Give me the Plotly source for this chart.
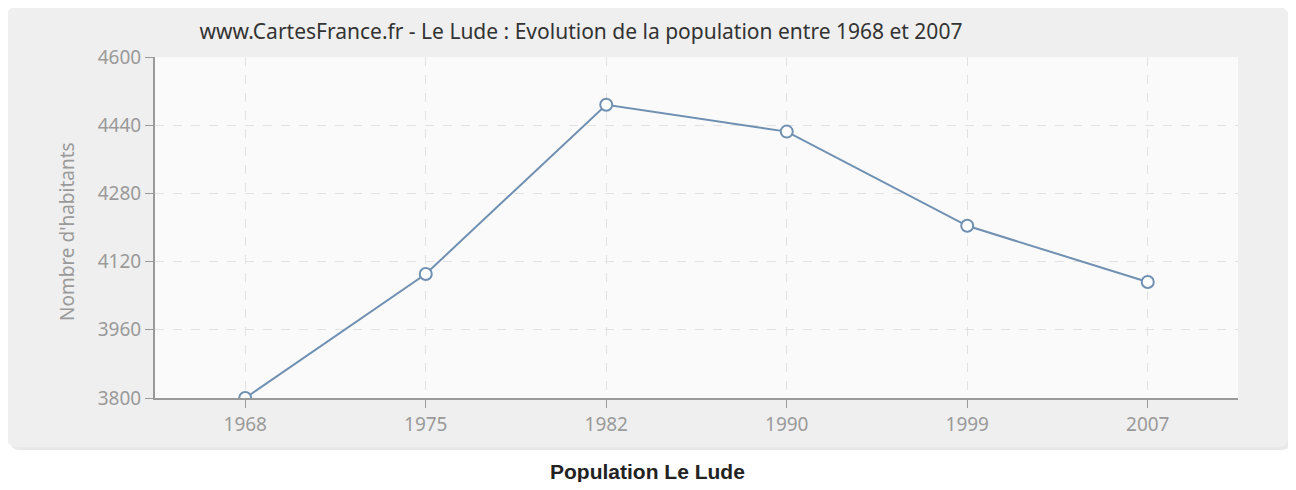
import plotly.graph_objects as go

years = ["1968", "1975", "1982", "1990", "1999", "2007"]
population = [3800, 4091, 4488, 4425, 4204, 4072]
y_ticks = [3800, 3960, 4120, 4280, 4440, 4600]

OFF = 8  # browser body margin
W, H = 1296 - 2 * OFF, 490 - 2 * OFF
L, R, T, B = 155, 1238, 57, 398   # plot area in reference pixels
pw, ph = R - L, B - T

def px(x):
    return (x - L) / pw

def py(y):
    return (B - y) / ph

fig = go.Figure()
fig.add_trace(go.Scatter(
    x=years, y=population, mode="lines+markers",
    line=dict(color="#7090b2", width=2),
    marker=dict(size=12, color="white", line=dict(color="#7090b2", width=2)),
    hoverinfo="x+y", showlegend=False,
))

def rounded(x0, y0, x1, y1, r):
    X0, X1 = px(x0), px(x1)
    Y0, Y1 = py(y1), py(y0)
    rx, ry = r / pw, r / ph
    return (f"M {X0+rx},{Y1} L {X1-rx},{Y1} Q {X1},{Y1} {X1},{Y1-ry} "
            f"L {X1},{Y0+ry} Q {X1},{Y0} {X1-rx},{Y0} L {X0+rx},{Y0} "
            f"Q {X0},{Y0} {X0},{Y0+ry} L {X0},{Y1-ry} Q {X0},{Y1} {X0+rx},{Y1} Z")

shapes = [
    dict(type="path", xref="paper", yref="paper", path=rounded(10, 10, 1291, 450, 10),
         fillcolor="#e8e8e8", line=dict(width=0), layer="below"),
    dict(type="path", xref="paper", yref="paper", path=rounded(7, 7, 1288, 447, 10),
         fillcolor="#efefef", line=dict(width=0), layer="below"),
    dict(type="rect", xref="paper", yref="paper", x0=0, x1=1, y0=0, y1=1,
         fillcolor="#fafafa", line=dict(width=0), layer="below"),
]

tick_font = dict(family="Noto Sans", size=19, color="#9a9a9a")

fig.update_layout(
    width=W, height=H,
    margin=dict(l=L - OFF, r=W - (R - OFF), t=T - OFF, b=H - (B - OFF)),
    paper_bgcolor="white",
    plot_bgcolor="rgba(0,0,0,0)",
    shapes=shapes,
    title=dict(
        text="www.CartesFrance.fr - Le Lude : Evolution de la population entre 1968 et 2007",
        x=(581 - OFF) / W, xanchor="center", y=1 - (32 - OFF) / H, yanchor="middle",
        font=dict(family="Noto Sans", size=21, color="#333333"),
    ),
    font=dict(family="Noto Sans"),
    xaxis=dict(
        type="category", range=[-0.5, 5.5],
        showline=True, linecolor="#9a9a9a", linewidth=2,
        ticks="outside", ticklen=8, tickcolor="#9a9a9a",
        showgrid=True, gridcolor="#e2e2e2", griddash="dash", gridwidth=1,
        tickfont=tick_font, zeroline=False, fixedrange=True,
    ),
    yaxis=dict(
        range=[3800, 4600], tickvals=y_ticks,
        showline=True, linecolor="#9a9a9a", linewidth=2,
        ticks="outside", ticklen=8, tickcolor="#9a9a9a",
        showgrid=True, gridcolor="#e2e2e2", griddash="dash", gridwidth=1,
        tickfont=tick_font, zeroline=False, fixedrange=True,
    ),
    annotations=[
        dict(text="Nombre d'habitants", xref="paper", yref="paper",
             x=px(67), y=py(232), textangle=-90, showarrow=False,
             xanchor="center", yanchor="middle",
             font=dict(family="Noto Sans", size=19, color="#9a9a9a")),
        dict(text="<b>Population Le Lude</b>", xref="paper", yref="paper",
             x=px(647), y=py(471), showarrow=False,
             xanchor="center", yanchor="middle",
             font=dict(family="Liberation Sans", size=21, color="#222222")),
    ],
)

fig.write_html("out.html")
